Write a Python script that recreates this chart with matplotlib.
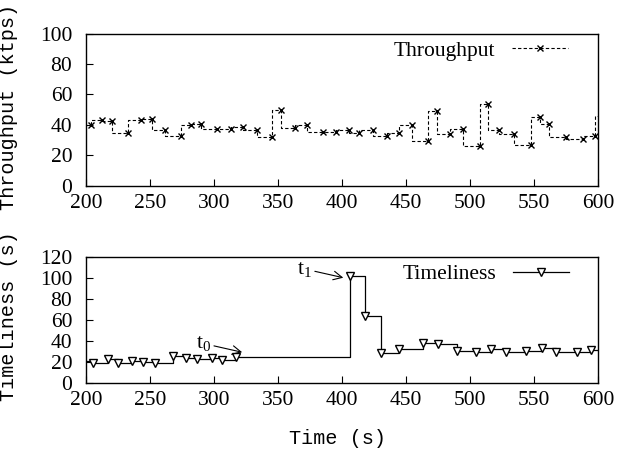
import matplotlib
matplotlib.use('Agg')
import matplotlib.pyplot as plt

# throughput samples (s, ktps)
tp_time = [203.6, 212.7, 220.5, 233, 242.7, 251.8, 261.7, 273.9, 282.3, 290.1,
           302.1, 313, 322.9, 333.4, 345.1, 352.1, 363.3, 372.9, 384.9, 395.3,
           405.2, 413, 424.4, 434.9, 444.8, 454.7, 466.9, 474, 484.4, 494.5,
           508, 514, 522.4, 534.1, 547.7, 554.9, 561.9, 575, 588, 597.9]
tp_value = [39.5, 43.4, 42.3, 34.7, 43.4, 43.9, 36.8, 32.4, 40.1, 40.6,
            37.3, 37.5, 38.4, 36.8, 31.8, 50, 38, 39.5, 35.1, 35.1,
            36.2, 34.7, 36.8, 32.9, 34.7, 39.5, 29.1, 48.9, 34.2, 37.3,
            25.9, 53.3, 36.8, 34.2, 26.5, 44.9, 40.6, 31.8, 30.3, 32.4]
tp_tail = [(597.9, 602), (32.4, 46)]

# timeliness samples (s, s)
tl_time = [205.7, 217.2, 225.2, 235.7, 244.8, 253.9, 268.2, 277.9, 287, 298.2,
           306.5, 317.4, 406.3, 418, 430.2, 444.5, 463.5, 475.2, 489.6, 504.4,
           516.4, 527.9, 543.5, 556, 567.2, 583.4, 594.3]
tl_value = [19.1, 22.2, 18.4, 20.7, 20, 19.1, 25.1, 23.8, 22.9, 23.2,
            21.6, 24.4, 101.6, 63.5, 28, 31.8, 38.1, 36.6, 30.2, 29.2,
            32.4, 29.5, 30.2, 33.3, 29.2, 29.5, 30.9]

serif = 'Liberation Serif'
mono = 'Liberation Mono'
plt.rcParams['mathtext.fontset'] = 'custom'
plt.rcParams['mathtext.rm'] = serif
plt.rcParams['mathtext.it'] = serif

fig = plt.figure(figsize=(6.33, 4.53), dpi=100)
ax1 = fig.add_axes([0.1359, 0.5905, 0.8088, 0.3355])
ax2 = fig.add_axes([0.1359, 0.1552, 0.8088, 0.2781])

ax1.plot(tp_time, tp_value, drawstyle='steps-pre', color='black', lw=0.8,
         ls=(0, (3, 2)), marker='x', ms=5, mew=1, label='Throughput')
ax1.plot(tp_tail[0], tp_tail[1], drawstyle='steps-pre', color='black', lw=0.8,
         ls=(0, (3, 2)))
ax1.set_xlim(200, 600)
ax1.set_ylim(0, 100)
ax1.set_yticks([0, 20, 40, 60, 80, 100])
ax1.set_ylabel('Throughput (ktps)', fontfamily=mono, fontsize=14.5)
ax1.yaxis.set_label_coords(-0.133, 0.52)
ax1.legend(loc='upper right', bbox_to_anchor=(0.959, 1.01), borderaxespad=0,
           frameon=False, prop={'family': serif, 'size': 15.5},
           markerfirst=False, handlelength=2.6)

tl_time_full = tl_time + [600]
tl_value_full = tl_value + [tl_value[-1]]
ax2.plot([200] + tl_time_full, [21] + tl_value_full, drawstyle='steps-post',
         color='black', lw=0.9)
ax2.plot(tl_time, tl_value, ls='none', color='black', marker='v', ms=5.5,
         mfc='white', mew=1)
ax2.plot([], [], color='black', lw=0.9, marker='v', ms=5.5, mfc='white', mew=1,
         label='Timeliness')
ax2.set_xlim(200, 600)
ax2.set_ylim(0, 120)
ax2.set_yticks([0, 20, 40, 60, 80, 100, 120])
ax2.set_ylabel('Timeliness (s)', fontfamily=mono, fontsize=14.5)
ax2.yaxis.set_label_coords(-0.133, 0.53)
ax2.set_xlabel('Time (s)', fontfamily=mono, fontsize=14.5)
ax2.xaxis.set_label_coords(0.492, -0.37)
ax2.legend(loc='upper right', bbox_to_anchor=(0.961, 1.01), borderaxespad=0,
           frameon=False, prop={'family': serif, 'size': 15.5},
           markerfirst=False, handlelength=2.6)

ax2.annotate('t$_0$', xy=(322, 29), xytext=(286, 33), fontfamily=serif, fontsize=15.5,
             arrowprops=dict(arrowstyle='->', color='black', lw=0.8, shrinkA=0, shrinkB=0))
ax2.annotate('t$_1$', xy=(401, 100), xytext=(365, 104), fontfamily=serif, fontsize=15.5,
             arrowprops=dict(arrowstyle='->', color='black', lw=0.8, shrinkA=0, shrinkB=0))

for ax in (ax1, ax2):
    ax.set_xticks([200, 250, 300, 350, 400, 450, 500, 550, 600])
    ax.tick_params(direction='in', length=5, width=0.8, labelsize=15.5)
    ax.tick_params(axis='y', pad=10)
    ax.tick_params(axis='x', pad=6)
    for lab in ax.get_xticklabels() + ax.get_yticklabels():
        lab.set_fontfamily(serif)
    for s in ax.spines.values():
        s.set_linewidth(1.0)

fig.savefig('out.png', dpi=100)
